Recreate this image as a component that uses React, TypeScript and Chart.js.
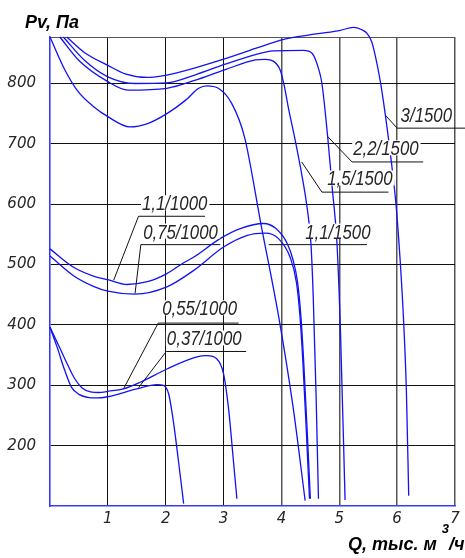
import React, { useEffect, useRef } from "react";
import { Chart, registerables } from "chart.js";

Chart.register(...registerables);

type Pt = [number, number];

// ---- axes ----
const xTickValues = [0, 1, 2, 3, 4, 5, 6, 7];
const yTickValues = [100, 200, 300, 400, 500, 600, 700, 800];
const xRange: Pt = [0, 7];
const yRange: Pt = [100, 877];
const yTitle = "Pv, Па";
const xTitleMain = "Q, тыс. м";
const xTitleSup = "3";
const xTitleTail = "/ч";

// ---- fan curves (Q, thousand m3/h ; Pv, Pa) ----
const q3_1500: Pt[] = [
  [0.29, 877], [0.6, 851], [1.0, 830], [1.3, 816], [1.68, 810], [2.02, 814], [2.51, 826],
  [3.03, 841], [3.55, 858], [4.04, 873], [4.6, 882], [5.02, 888], [5.24, 893], [5.39, 889],
  [5.48, 883], [5.56, 869], [5.62, 847], [5.71, 803], [5.8, 745], [5.9, 670], [5.98, 600],
  [6.05, 510], [6.11, 410], [6.16, 290], [6.2, 117],
];
const q2_2_1500: Pt[] = [
  [0.23, 877], [0.6, 838], [1.0, 811], [1.47, 800], [2.02, 801], [2.5, 814], [3.03, 832],
  [3.55, 848], [3.86, 854], [4.38, 855], [4.53, 850], [4.64, 825], [4.7, 800], [4.8, 711],
  [4.88, 625], [4.96, 535], [5.02, 391], [5.1, 110],
];
const q1_5_1500: Pt[] = [
  [0.17, 877], [0.5, 838], [1.0, 803], [1.35, 789], [2.02, 792], [2.5, 805], [3.03, 823],
  [3.55, 839], [3.72, 840], [3.86, 837], [3.98, 822], [4.04, 800], [4.13, 755], [4.24, 705],
  [4.35, 650], [4.45, 590], [4.51, 535], [4.55, 446], [4.6, 280], [4.64, 112],
];
const q1_1_1500: Pt[] = [
  [0, 877], [0.26, 822], [0.49, 786], [0.75, 762], [1.0, 745], [1.38, 728], [1.7, 734],
  [2.02, 750], [2.34, 772], [2.57, 792], [2.71, 796], [2.91, 792], [3.14, 767], [3.36, 712],
  [3.65, 565], [3.95, 415], [4.2, 265], [4.41, 109],
];
const q1_1_1000: Pt[] = [
  [0, 526], [0.4, 496], [0.75, 481], [1.0, 475], [1.33, 467], [1.7, 472], [2.02, 485],
  [2.31, 503], [2.48, 512], [2.94, 543], [3.3, 560], [3.69, 568], [3.9, 560], [4.1, 535],
  [4.2, 508], [4.28, 470], [4.34, 410], [4.39, 330], [4.45, 215], [4.5, 112],
];
const q0_75_1000: Pt[] = [
  [0, 514], [0.4, 482], [0.75, 464], [1.0, 456], [1.47, 451], [2.02, 463], [2.48, 490],
  [3.0, 529], [3.4, 548], [3.72, 552], [3.95, 543], [4.15, 512], [4.26, 470], [4.32, 415],
  [4.37, 340], [4.43, 225], [4.485, 112],
];
const q0_55_1000: Pt[] = [
  [0, 396], [0.15, 366], [0.29, 337], [0.42, 312], [0.55, 296], [0.7, 289], [0.85, 288],
  [1.0, 290], [1.27, 294], [1.56, 305], [2.02, 327], [2.54, 347], [2.71, 349], [2.88, 344],
  [3.0, 319], [3.09, 258], [3.17, 175], [3.23, 112],
];
const q0_37_1000: Pt[] = [
  [0, 396], [0.12, 364], [0.25, 326], [0.37, 297], [0.5, 285], [0.65, 280], [0.8, 279],
  [1.0, 281], [1.5, 294], [1.85, 301], [1.96, 300], [2.05, 286], [2.13, 242], [2.22, 175],
  [2.31, 104],
];
const curves: Pt[][] = [
  q3_1500, q2_2_1500, q1_5_1500, q1_1_1500, q1_1_1000, q0_75_1000, q0_55_1000, q0_37_1000,
];

// ---- curve labels (text, anchor in data coords, leader polyline in data coords) ----
const labelTexts = [
  "3/1500", "2,2/1500", "1,5/1500", "1,1/1500", "1,1/1000", "0,75/1000", "0,55/1000", "0,37/1000",
];
const labelAnchors: Pt[] = [
  [6.06, 736], [5.24, 681], [4.79, 631], [4.41, 543], [1.59, 590], [1.61, 543], [1.94, 416], [2.02, 366],
];
const leaderLines: Pt[][] = [
  [[5.8, 747], [6.0, 726], [7.2, 726]],
  [[4.79, 713], [5.22, 670], [6.45, 670]],
  [[4.35, 670], [4.7, 620], [5.85, 620]],
  [[3.78, 533], [5.48, 533]],
  [[1.1, 474], [1.53, 580], [2.68, 580]],
  [[1.47, 452], [1.57, 533], [2.94, 533]],
  [[1.27, 294], [1.87, 403], [3.26, 403]],
  [[1.53, 296], [2.01, 356], [3.39, 356]],
];

const CURVE_COLOR = "#1212f2";
const AXIS_COLOR = "#3a3aff";
const TEXT_COLOR = "#262626";
const TICK_FONT = "'DejaVu Sans', sans-serif";
const LABEL_FONT = "'Liberation Sans', sans-serif";
const TITLE_FONT = "'Liberation Sans', Arial, sans-serif";
const LABEL_SQUEEZE = 0.84;

const toXY = (pts: Pt[]) => pts.map(([x, y]) => ({ x, y }));

const textPlugin = {
  id: "curveText",
  afterDatasetsDraw(chart: any) {
    const { ctx, scales, chartArea } = chart;
    const xs = scales.x;
    const ys = scales.y;
    ctx.save();
    ctx.textBaseline = "alphabetic";
    ctx.textAlign = "left";
    ctx.font = `italic 20px ${LABEL_FONT}`;
    labelTexts.forEach((t, i) => {
      const px = xs.getPixelForValue(labelAnchors[i][0]);
      const py = ys.getPixelForValue(labelAnchors[i][1]);
      const w = ctx.measureText(t).width * LABEL_SQUEEZE;
      ctx.fillStyle = "#ffffff";
      ctx.fillRect(px - 1, py - 15, w + 3, 15);
      ctx.fillStyle = TEXT_COLOR;
      ctx.fillText(t, px, py, w);
    });
    // axis titles
    ctx.fillStyle = "#000";
    ctx.font = `italic bold 18px ${TITLE_FONT}`;
    ctx.fillText(yTitle, chartArea.left - 25, chartArea.top - 9);
    const tx = chartArea.right - 107;
    const ty = chartArea.bottom + 44;
    ctx.fillText(xTitleMain, tx, ty);
    const wMain = ctx.measureText(xTitleMain + " ").width;
    ctx.font = `italic bold 13px ${TITLE_FONT}`;
    ctx.fillText(xTitleSup, tx + wMain, ty - 17);
    const wSup = ctx.measureText(xTitleSup).width;
    ctx.font = `italic bold 18px ${TITLE_FONT}`;
    ctx.fillText(xTitleTail, tx + wMain + wSup, ty);
    ctx.restore();
  },
};

export default function App() {
  const ref = useRef<HTMLCanvasElement | null>(null);
  useEffect(() => {
    if (!ref.current) return;
    const datasets: any[] = [];
    curves.forEach((c) =>
      datasets.push({
        data: toXY(c),
        borderColor: CURVE_COLOR,
        borderWidth: 1.3,
        pointRadius: 0,
        fill: false,
        cubicInterpolationMode: "monotone",
        clip: false,
      })
    );
    leaderLines.forEach((l) =>
      datasets.push({
        data: toXY(l),
        borderColor: "#111",
        borderWidth: 1,
        pointRadius: 0,
        fill: false,
        tension: 0,
        clip: false,
      })
    );
    const chart = new Chart(ref.current, {
      type: "line",
      data: { datasets },
      options: {
        animation: false,
        responsive: true,
        maintainAspectRatio: false,
        parsing: false as any,
        layout: { padding: { top: 37, right: 10, left: 0, bottom: 0 } },
        plugins: { legend: { display: false }, tooltip: { enabled: false } },
        scales: {
          x: {
            type: "linear",
            min: xRange[0],
            max: xRange[1],
            afterFit: (s: any) => {
              s.height = 52;
            },
            afterBuildTicks: (s: any) => {
              s.ticks = xTickValues.map((v) => ({ value: v }));
            },
            border: { color: AXIS_COLOR, width: 1.6 },
            grid: {
              drawTicks: false,
              color: (c: any) =>
                c.tick && c.tick.value === xRange[0] ? "rgba(0,0,0,0)" : c.tick && c.tick.value >= 4 ? "#555" : "#111",
              lineWidth: (c: any) => (c.tick && c.tick.value >= 4 ? 1.5 : 1),
            },
            ticks: {
              padding: 4,
              color: TEXT_COLOR,
              font: { family: TICK_FONT, size: 15, style: "italic" },
              callback: (v: any) => (v === xRange[0] ? "" : String(v)),
            },
          },
          y: {
            type: "linear",
            min: yRange[0],
            max: yRange[1],
            afterFit: (s: any) => {
              s.width = 50;
            },
            afterBuildTicks: (s: any) => {
              s.ticks = [...yTickValues, yRange[1]].map((v) => ({ value: v }));
            },
            border: { color: AXIS_COLOR, width: 1.6 },
            grid: {
              drawTicks: false,
              color: (c: any) =>
                c.tick && c.tick.value === yRange[0] ? "rgba(0,0,0,0)" : c.tick && c.tick.value === yRange[1] ? "#555" : "#111",
              lineWidth: 1,
            },
            ticks: {
              padding: 14,
              color: TEXT_COLOR,
              font: { family: TICK_FONT, size: 15, style: "italic" },
              callback: (v: any) => (v === yRange[0] || v === yRange[1] ? "" : String(v)),
            },
          },
        },
      },
      plugins: [textPlugin],
    });
    return () => chart.destroy();
  }, []);
  return (
    <div style={{ position: "absolute", left: 0, top: 0, width: 465, height: 558 }}>
      <canvas ref={ref} />
    </div>
  );
}
